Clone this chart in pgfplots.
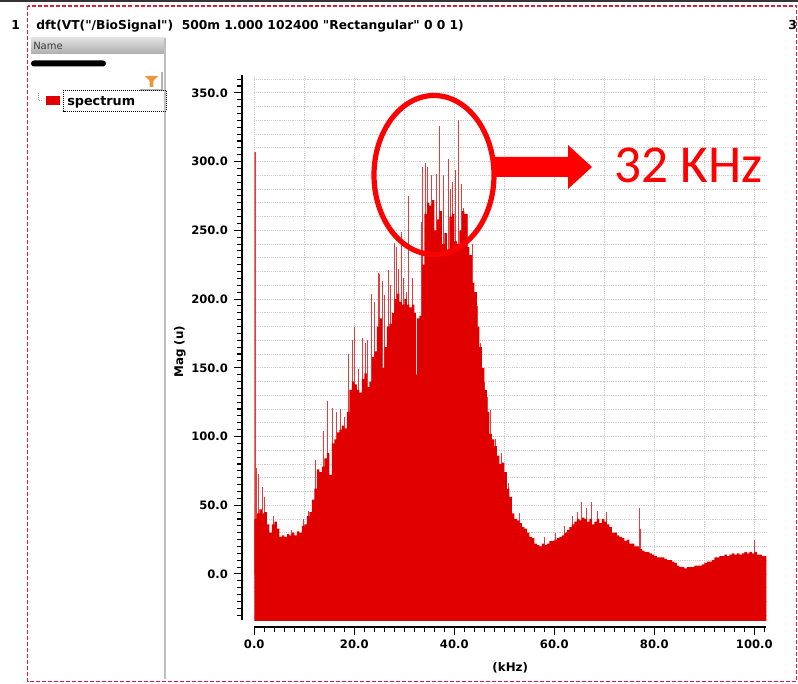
\documentclass[border=0pt]{standalone}
\usepackage{pgfplots}
\pgfplotsset{compat=1.18}
\usepackage{fontspec}
\setmainfont{DejaVu Sans}
\newfontfamily\carlito{Carlito}
\font\titlefont="DejaVu Sans/B" at 9.2pt
\definecolor{specred}{RGB}{224,0,0}
\definecolor{spikered}{RGB}{230,60,60}
\definecolor{annred}{RGB}{255,0,0}
\definecolor{framered}{RGB}{222,30,60}
\definecolor{gridgray}{RGB}{205,205,205}
\definecolor{funnel}{RGB}{236,150,60}
\begin{document}
\begin{tikzpicture}
\path[use as bounding box] (0,0) rectangle (598.5pt,-513pt);
\begin{axis}[
  at={(190.7pt,-465pt)}, anchor=south west,
  scale only axis, width=384pt, height=408.75pt,
  xmin=0, xmax=102.4, ymin=-33.5, ymax=363,
  axis x line*=bottom, axis y line*=left,
  axis x line shift=5.25pt, axis y line shift=9.2pt,
  axis line style={line width=0.9pt, black},
  tick align=outside, major tick length=6pt, minor tick length=3.5pt,
  tick style={line width=0.8pt, black},
  xtick={0,20,...,100}, minor xtick={0,2,...,102},
  ytick={0,50,...,350}, minor ytick={-30,-25,...,360},
  xmajorgrids=true, ymajorgrids=true,
  major grid style={gridgray, densely dotted, line width=0.6pt},
  extra x ticks={10,30,50,70,90}, extra x tick labels={},
  extra x tick style={major tick length=0pt, xmajorgrids=true},
  extra y ticks={-30,-20,-10,10,20,30,40,60,70,80,90,110,120,130,140,160,170,180,190,210,220,230,240,260,270,280,290,310,320,330,340,360},
  extra y tick labels={},
  extra y tick style={major tick length=0pt, ymajorgrids=true},
  tick label style={font=\bfseries\fontsize{8.7pt}{10pt}\selectfont},
  xticklabel style={/pgf/number format/fixed, /pgf/number format/fixed zerofill, /pgf/number format/precision=1, /pgf/number format/assume math mode=true},
  yticklabel style={/pgf/number format/fixed, /pgf/number format/fixed zerofill, /pgf/number format/precision=1, /pgf/number format/assume math mode=true, xshift=-1pt},
  xlabel={(kHz)}, ylabel={Mag (u)},
  label style={font=\bfseries\fontsize{8.9pt}{10pt}\selectfont},
  xlabel style={at={(axis description cs:0.5,-0.0875)}, anchor=center},
  ylabel style={at={(axis description cs:-0.145,0.492)}, anchor=center, rotate=0},
  clip=true,
]
% spikes (drawn first, the body covers their lower part)
\addplot[ycomb, draw=spikered, line width=0.9pt, mark=none] coordinates {
(0.15,307) (0.4,77) (0.9,73) (1.6,63) (2.0,56) (3.8,42) (7.5,32) (9.8,40) (10.9,46)
(12.2,83) (13.9,104) (14.7,126) (15.6,121) (16.4,118) (17.3,120) (18.0,114) (18.9,160)
(19.6,170) (20.0,180) (20.9,149) (21.6,172) (22.2,168) (22.7,170) (23.5,204) (24.0,198)
(24.9,219) (25.1,218) (25.7,213) (26.1,203) (26.8,221) (27.3,210) (28.0,241) (28.4,238)
(28.8,222) (29.5,249) (29.9,215) (30.5,205) (30.9,275) (31.6,215) (33.4,256) (33.6,296)
(34.3,299) (34.7,296) (35.5,290) (36.4,291) (37.1,326) (37.8,290) (38.8,302) (39.3,280)
(39.7,285) (40.2,294) (40.9,330) (41.4,284) (41.9,266) (42.7,262) (43.6,240) (44.6,195)
(45.3,168) (46.0,140) (46.7,129) (47.2,119) (48.2,98) (49.5,88) (50.8,66) (51.5,55)
(53.0,44) (58.0,27) (60.2,30) (62.0,35) (63.7,42) (64.7,45) (65.5,52) (66.5,48)
(67.4,52) (68.7,46) (70.5,45) (77.0,48) (77.3,33) (100.0,25)
};
% spectrum body
\addplot[const plot, draw=none, fill=specred] coordinates {
(0,-40) (0,40) (0.5,44) (1.0,47) (1.5,44) (2.0,45) (2.5,36) (3.0,30) (3.5,36) (4.0,38)
(4.5,33) (5.0,27) (5.5,28) (6.0,27) (6.5,29) (7.0,28) (7.5,30) (8.0,28) (8.5,31) (9.0,30)
(9.5,35) (10.0,36) (10.5,42) (11.0,45) (11.5,54) (12.0,62) (12.5,76) (13.0,74) (13.5,78)
(14.0,84) (14.5,88) (15.0,72) (15.5,95) (16.0,98) (16.5,103) (17.0,105) (17.5,108)
(18.0,106) (18.5,118) (19.0,134) (19.5,140) (20.0,138) (20.5,134) (21.0,132) (21.5,142)
(22.0,146) (22.5,136) (23.0,140) (23.5,158) (24.0,162) (24.5,180) (25.0,186) (25.5,150)
(26.0,165) (26.5,180) (27.0,182) (27.5,190) (28.0,200) (28.5,204) (29.0,198) (29.5,196)
(30.0,200) (30.5,196) (31.0,194) (31.5,196) (32.0,190) (32.3,145) (32.5,186) (33.0,188)
(33.5,225) (34.0,262) (34.5,270) (35.0,268) (35.5,272) (36.0,250) (36.5,258) (37.0,264)
(37.5,240) (38.0,248) (38.5,236) (39.0,260) (39.5,262) (40.0,242) (40.5,240) (41.0,250)
(41.5,264) (42.0,262) (42.5,238) (43.0,232) (43.5,212) (44.0,205) (44.5,180) (45.0,165)
(45.5,150) (46.0,134) (46.5,118) (47.0,102) (47.5,98) (48.0,93) (48.5,86) (49.0,80)
(49.5,81) (50.0,74) (50.5,62) (51.0,56) (51.5,44) (52.0,40) (52.5,39) (53.0,37) (53.5,34)
(54.0,33) (54.5,30) (55.0,27) (55.5,26) (56.0,22) (56.5,21) (57.0,20) (57.5,22) (58.0,21)
(58.5,22) (59.0,24) (59.5,24) (60.0,25) (60.5,26) (61.0,27) (61.5,28) (62.0,30) (62.5,32)
(63.0,34) (63.5,36) (64.0,38) (64.5,40) (65.0,39) (65.5,41) (66.0,40) (66.5,38) (67.0,40)
(67.5,36) (68.0,38) (68.5,40) (69.0,37) (69.5,40) (70.0,38) (70.5,36) (71.0,34) (71.5,30)
(72.0,30) (72.5,28) (73.0,27) (73.5,26) (74.0,24) (74.5,25) (75.0,22) (75.5,22) (76.0,20)
(76.5,20) (77.0,18) (77.5,17) (78.0,16) (78.5,16) (79.0,15) (79.5,14) (80.0,13) (80.5,12)
(81.0,12) (81.5,12) (82.0,11) (82.5,10) (83.0,10) (83.5,9) (84.0,8) (84.5,6) (85.0,5)
(85.5,5) (86.0,4) (86.5,5) (87.0,5) (87.5,5) (88.0,6) (88.5,6) (89.0,6) (89.5,7) (90.0,8)
(90.5,9) (91.0,9) (91.5,10) (92.0,12) (92.5,12) (93.0,13) (93.5,13) (94.0,14) (94.5,13)
(95.0,14) (95.5,15) (96.0,14) (96.5,15) (97.0,14) (97.5,15) (98.0,16) (98.5,15) (99.0,16)
(99.5,15) (100.0,16) (100.5,14) (101.0,14) (101.5,13) (102.0,13) (102.4,13) (102.4,-40)
} -- cycle;
\end{axis}
% overlay in pixel units (y downward)
\begin{scope}[x=0.75pt, y=-0.75pt]
  \fill[black!80] (0,0) rectangle (798,2.5);
  \draw[framered, line width=0.8pt, dash pattern=on 3pt off 1.5pt] (27.5,6) rectangle (796.5,681.5);
  \node[anchor=base west, inner sep=0pt, font=\bfseries\fontsize{9.3pt}{11pt}\selectfont] at (11,29.5) {1};
  \node[anchor=base west, inner sep=0pt, font=\titlefont] at (36,29.5) {dft(VT("/BioSignal")\ \ 500m 1.000 102400 "Rectangular" 0 0 1)};
  \node[anchor=base west, inner sep=0pt, font=\bfseries\fontsize{9.3pt}{11pt}\selectfont] at (788,29.5) {3};
  % left panel
  \shade[top color=black!12, bottom color=black!32] (31,38) rectangle (165,54);
  \node[anchor=base west, inner sep=0pt, text=black!75, font=\fontsize{7.5pt}{9pt}\selectfont] at (33,50) {Name};
  \draw[black!25, line width=1.1pt] (165,38) -- (165,679);
  \fill[black, rounded corners=2.2pt] (31,60.5) rectangle (106,66.5);
  \draw[black!30, line width=0.8pt] (140,90) -- (162,90) -- (162,72);
  \fill[funnel] (145,76) -- (158,76) -- (153.3,81) -- (153.3,87) -- (149.7,87) -- (149.7,81) -- cycle;
  \draw[black!40, densely dotted, line width=0.5pt] (38,93) -- (38,100) -- (43,100);
  \fill[specred] (46,96.5) rectangle (60,105.5);
  \draw[black, densely dotted, line width=0.5pt] (63.5,90.5) rectangle (166,111);
  \node[anchor=base west, inner sep=0pt, font=\bfseries\fontsize{9.6pt}{11pt}\selectfont] at (67,105.5) {spectrum};
  % annotation
  \draw[annred, line width=3.9pt] (434,175) ellipse [x radius=60, y radius=79.5];
  \fill[annred] (494,157) -- (568,157) -- (568,145) -- (592,167) -- (568,189) -- (568,177) -- (494,177) -- cycle;
  \node[anchor=base west, inner sep=0pt, text=annred, font=\carlito\fontsize{40pt}{44pt}\selectfont] at (614,183) {32 KHz};
\end{scope}
\end{tikzpicture}
\end{document}
